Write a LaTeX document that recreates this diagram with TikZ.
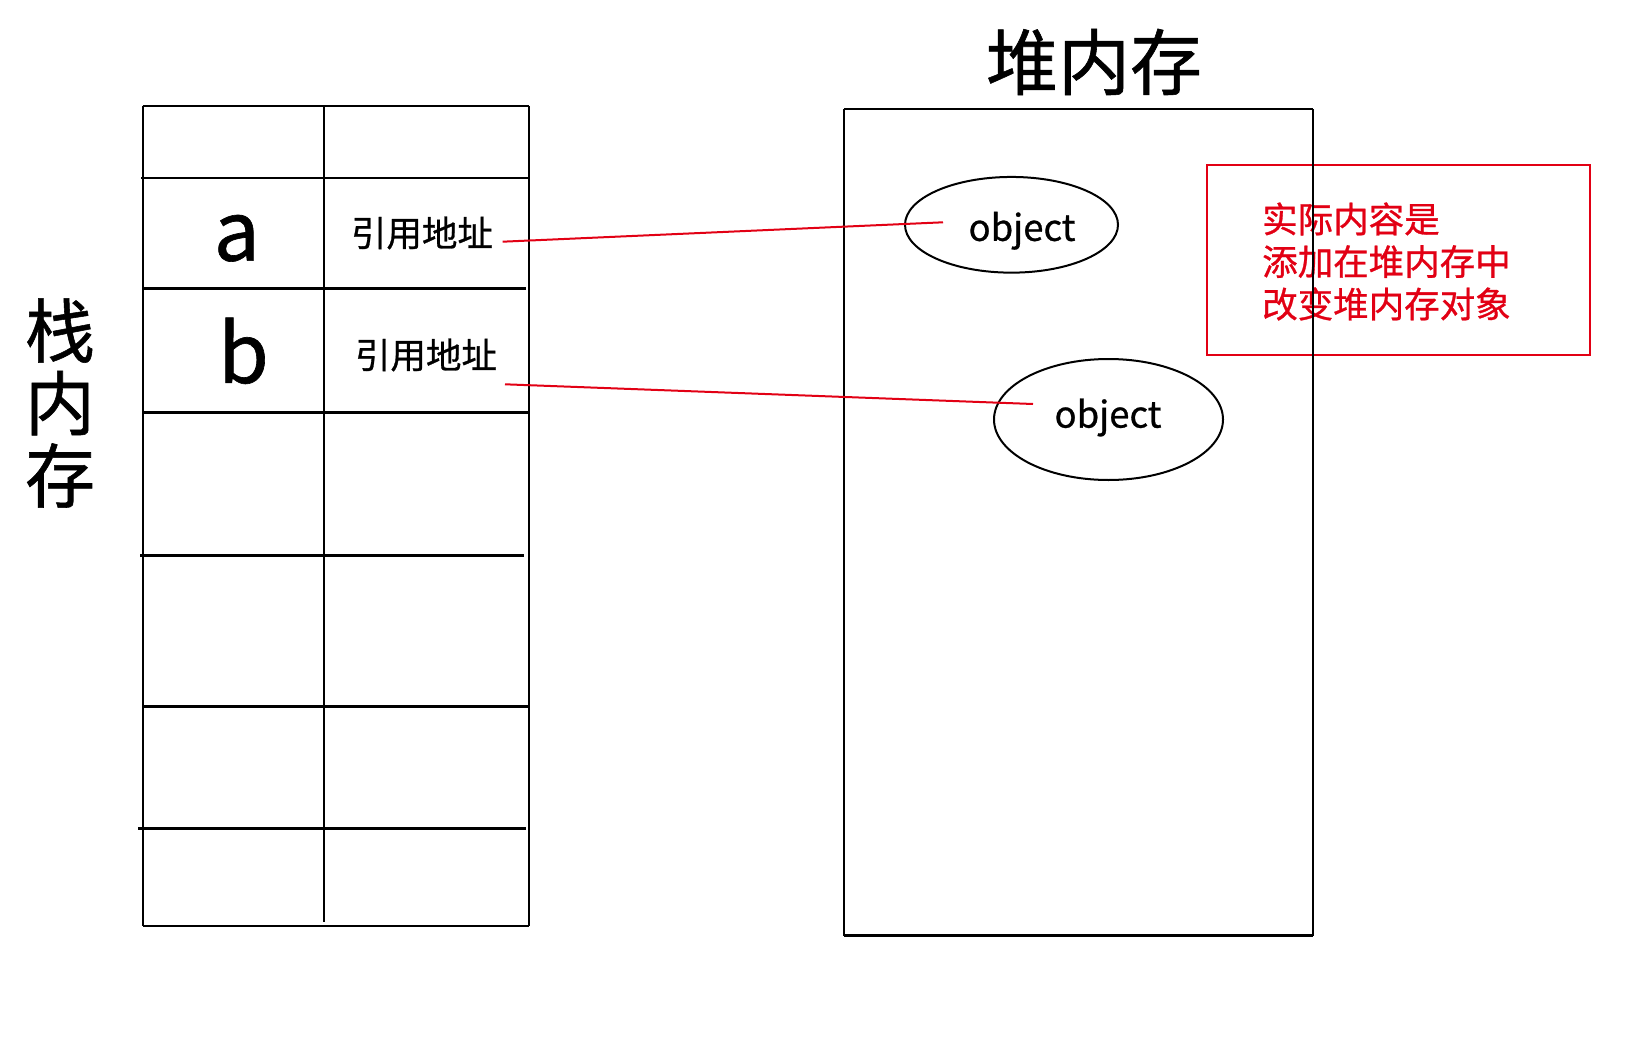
\documentclass[tikz,border=0pt]{standalone}
\usepackage{fontspec}
\setmainfont{Noto Sans CJK SC}[FakeBold=0.8]
\usetikzlibrary{shapes.geometric}
\definecolor{mred}{RGB}{226,0,20}
\tikzset{
  grid/.style={line width=2pt, black},
  hgrid/.style={line width=2.6pt, black},
  txt/.style={inner sep=0pt, anchor=center},
  objtxt/.style={txt, font=\fontsize{36.5}{40}\selectfont},
  reftxt/.style={txt, font=\fontsize{35.5}{40}\selectfont},
  vartxt/.style={txt, font=\fontsize{82}{86}\selectfont},
  objell/.style={ellipse, draw, line width=2pt, inner sep=0pt},
  redline/.style={mred, line width=2pt},
}
\begin{document}
\begin{tikzpicture}[x=1pt,y=-1pt]
\useasboundingbox[fill=white] (0,0) rectangle (1628,1046);

% stack table
\draw[grid] (142.5,106) -- (142.5,926);
\draw[grid] (528.5,106) -- (528.5,926);
\draw[grid] (324,106) -- (324,922);
\draw[hgrid] (142.5,106) -- (528.5,106);
\draw[hgrid] (141,178) -- (528.5,178);
\draw[hgrid] (142.5,288.3) -- (526,288.3);
\draw[hgrid] (142.5,412.3) -- (528.5,412.3);
\draw[hgrid] (140,555.7) -- (524,555.7);
\draw[hgrid] (142.5,706.7) -- (528.5,706.7);
\draw[hgrid] (138,828.3) -- (526,828.3);
\draw[hgrid] (142.5,926) -- (528.5,926);

\node[vartxt] (va) at (236.8,238.3) {a};
\node[vartxt] (vb) at (243.5,350.8) {b};
\node[reftxt] (refa) at (422,233) {引用地址};
\node[reftxt] (refb) at (426,355) {引用地址};

\node[txt, align=center, font=\fontsize{70}{72.5}\selectfont] (stacklabel) at (60,403) {栈\\内\\存};

% heap title
\node[txt, font=\fontsize{72}{76}\selectfont] (heaptitle) at (1094,62) {堆内存};

% note box
\draw[mred, line width=2pt] (1207,165) rectangle (1590,355);
\node[txt, anchor=west, align=left, text=mred, font=\fontsize{35.5}{42.5}\selectfont] (note) at (1262,261.5) {实际内容是\\添加在堆内存中\\改变堆内存对象};

% heap box
\draw[line width=2pt] (844,109.3) -- (1313,109.3);
\draw[line width=2pt] (844,109.3) -- (844,935.7);
\draw[line width=2pt] (1313,109.3) -- (1313,935.7);
\draw[line width=2.8pt] (844,935.7) -- (1313,935.7);

% objects
\node[objell, minimum width=213pt, minimum height=95.7pt] (e1) at (1011.5,224.8) {};
\node[objtxt] (o1) at (1022,230.7) {object};
\node[objell, minimum width=229pt, minimum height=121pt] (e2) at (1108.5,419.5) {};
\node[objtxt] (o2) at (1108,417.5) {object};

% references
\coordinate (a-out) at (502.6,241.7);
\coordinate (a-in) at (943,222.3);
\coordinate (b-out) at (505,384.3);
\coordinate (b-in) at (1033,404);
\draw[redline] (a-out) -- (a-in);
\draw[redline] (b-out) -- (b-in);
\end{tikzpicture}
\end{document}
